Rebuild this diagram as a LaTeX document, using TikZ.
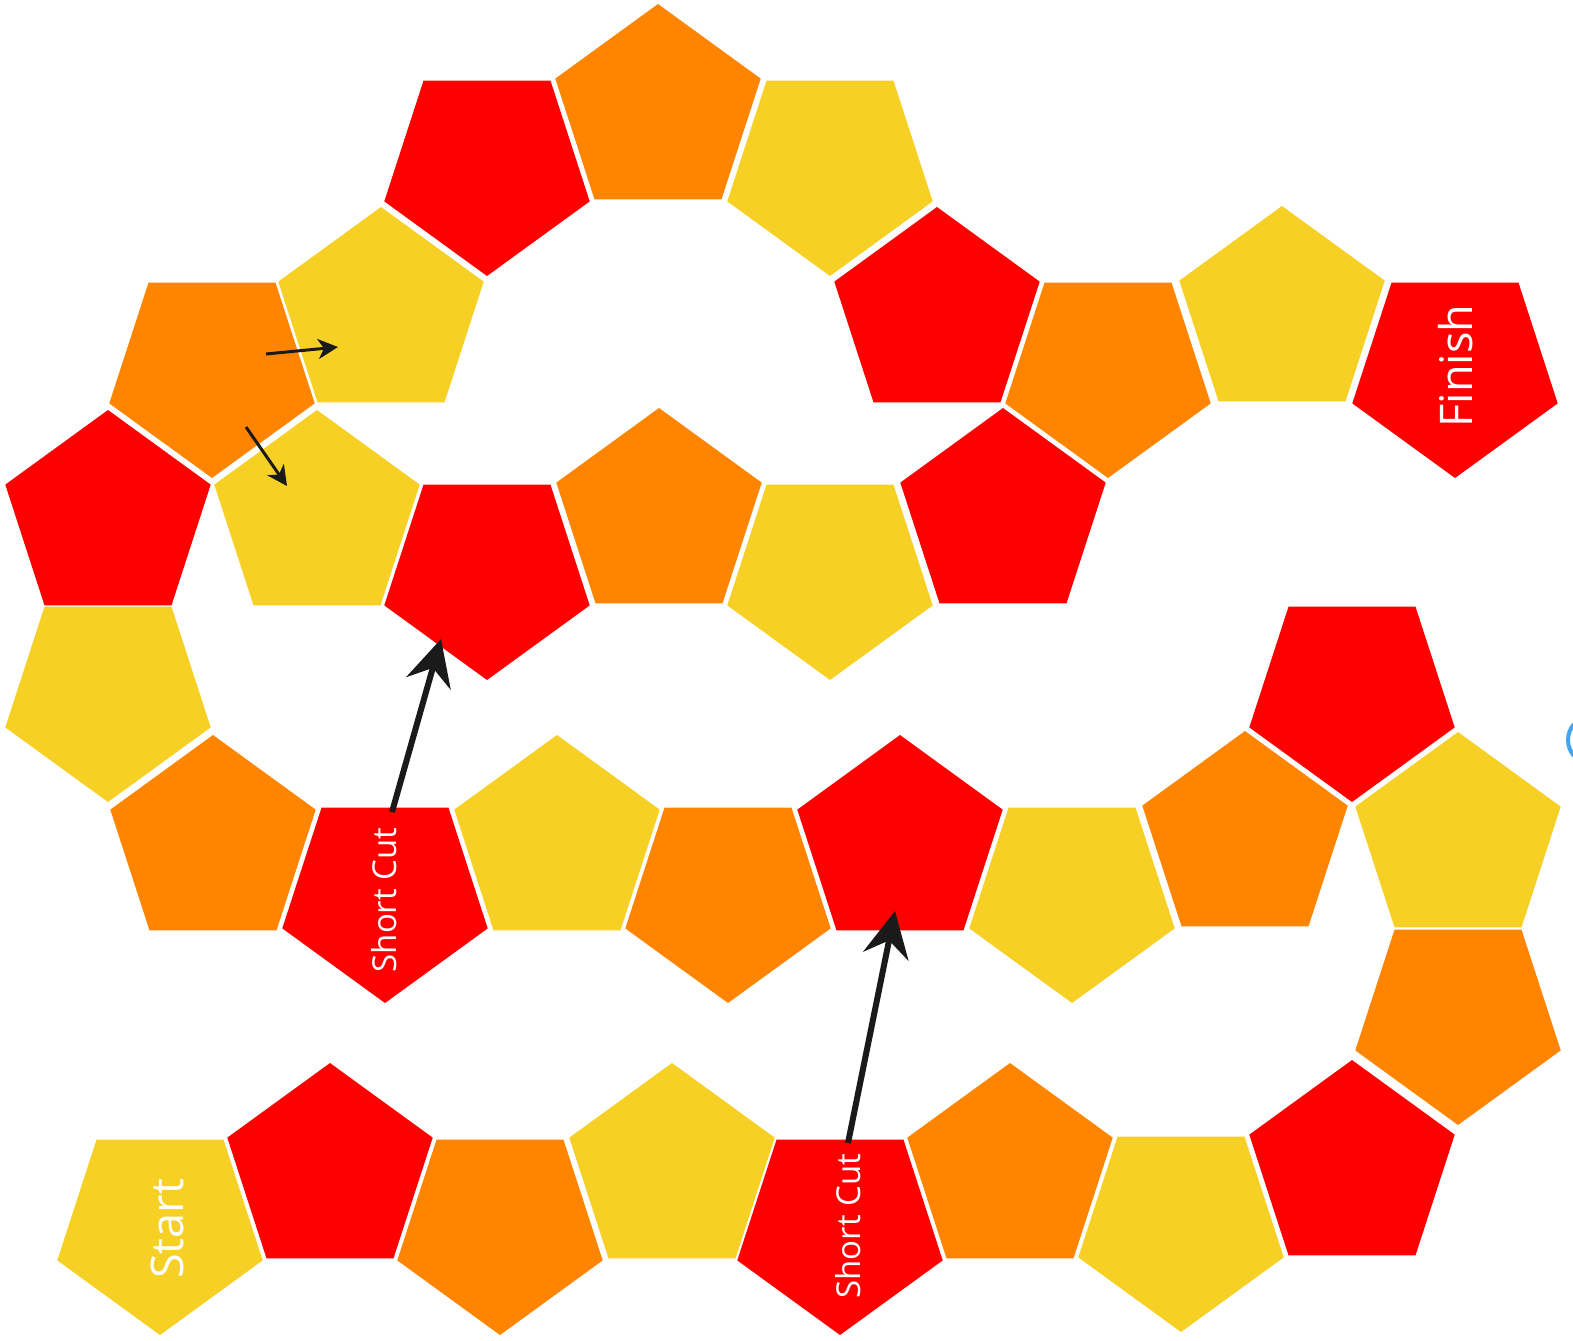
\documentclass[tikz,border=0pt]{standalone}
\usepackage{fontspec}
\setmainfont{Open Sans}
\usetikzlibrary{shapes.geometric,arrows.meta}

\definecolor{tileRed}{RGB}{255,0,0}
\definecolor{tileOrange}{RGB}{255,133,0}
\definecolor{tileYellow}{RGB}{247,208,38}
\definecolor{arrowInk}{RGB}{26,26,26}
\definecolor{markBlue}{RGB}{70,165,240}

\tikzset{every picture/.style={line width=0.75pt}}
\tikzset{
  tileup/.style={regular polygon, regular polygon sides=5, minimum size=108pt, inner sep=0pt, outer sep=0pt, draw=none},
  tiledown/.style={tileup, shape border rotate=180},
  tilelabel/.style={text=white, rotate=90, inner sep=0pt},
  shortcut/.style={draw=arrowInk, line width=3pt, -{Stealth[length=23pt, width=23pt, inset=8pt]}},
  hint/.style={draw=arrowInk, line width=1.5pt, -{Stealth[length=10pt, width=10pt, inset=3pt]}}
}

\begin{document}
\begin{tikzpicture}[x=0.5pt,y=0.5pt,yscale=-1,xscale=1]
\useasboundingbox (0,0) rectangle (1573,1340);

%Shape: Pentagon [bottom row]
\node [tiledown, fill=tileYellow] (t01) at (160,1227) {};
\node [tileup, fill=tileRed] (t02) at (330,1171) {};
\node [tiledown, fill=tileOrange] (t03) at (500,1227) {};
\node [tileup, fill=tileYellow] (t04) at (672,1171) {};
\node [tiledown, fill=tileRed] (t05) at (840,1227) {};
\node [tileup, fill=tileOrange] (t06) at (1010,1171) {};
\node [tiledown, fill=tileYellow] (t07) at (1181,1224) {};
\node [tileup, fill=tileRed] (t08) at (1352,1168) {};
%Shape: Pentagon [right column]
\node [tiledown, fill=tileOrange] (t09) at (1458,1017) {};
\node [tileup, fill=tileYellow] (t10) at (1458,840) {};
\node [tiledown, fill=tileRed] (t11) at (1352,694) {};
%Shape: Pentagon [middle row]
\node [tileup, fill=tileOrange] (t12) at (1245,839) {};
\node [tiledown, fill=tileYellow] (t13) at (1072,895) {};
\node [tileup, fill=tileRed] (t14) at (900,843) {};
\node [tiledown, fill=tileOrange] (t15) at (728,895) {};
\node [tileup, fill=tileYellow] (t16) at (557,843) {};
\node [tiledown, fill=tileRed] (t17) at (385,895) {};
\node [tileup, fill=tileOrange] (t18) at (213,843) {};
%Shape: Pentagon [left column]
\node [tiledown, fill=tileYellow] (t19) at (108,694) {};
\node [tileup, fill=tileRed] (t20) at (108,518) {};
\node [tiledown, fill=tileOrange] (t21) at (212,370) {};
%Shape: Pentagon [lower branch]
\node [tileup, fill=tileYellow] (t22) at (317,518) {};
\node [tiledown, fill=tileRed] (t23) at (487,572) {};
\node [tileup, fill=tileOrange] (t24) at (659,516) {};
\node [tiledown, fill=tileYellow] (t25) at (830,572) {};
\node [tileup, fill=tileRed] (t26) at (1003,516) {};
%Shape: Pentagon [upper branch]
\node [tileup, fill=tileYellow] (t27) at (381,315) {};
\node [tiledown, fill=tileRed] (t28) at (487,168) {};
\node [tileup, fill=tileOrange] (t29) at (658,112) {};
\node [tiledown, fill=tileYellow] (t30) at (830,168) {};
\node [tileup, fill=tileRed] (t31) at (937,315) {};
\node [tiledown, fill=tileOrange] (t32) at (1108,370) {};
\node [tileup, fill=tileYellow] (t33) at (1282,314) {};
\node [tiledown, fill=tileRed] (t34) at (1455,370) {};

%Shape: Circle [cut off at the edge]
\draw [draw=markBlue, line width=2pt] (1592,740) circle [radius=24];

%Straight Lines [short cuts]
\coordinate (cutA) at (392,812);
\coordinate (cutAend) at (441,639);
\draw [shortcut] (cutA) -- (cutAend);
\coordinate (cutB) at (848,1143);
\coordinate (cutBend) at (895,911);
\draw [shortcut] (cutB) -- (cutBend);
%Straight Lines [direction hints]
\coordinate (hintA) at (266,354);
\coordinate (hintAend) at (338,347);
\draw [hint] (hintA) -- (hintAend);
\coordinate (hintB) at (246,427);
\coordinate (hintBend) at (287,486);
\draw [hint] (hintB) -- (hintBend);

% Text Node
\draw (167,1229) node [tilelabel, font=\fontsize{22.5}{22.5}\selectfont] (start) {Start};
% Text Node
\draw (1456,366) node [tilelabel, font=\fontsize{22.5}{22.5}\selectfont] (finish) {Finish};
% Text Node
\draw (384,900) node [tilelabel, font=\fontsize{16.5}{16.5}\selectfont] (cutAtext) {Short Cut};
% Text Node
\draw (848,1226) node [tilelabel, font=\fontsize{16.5}{16.5}\selectfont] (cutBtext) {Short Cut};

\end{tikzpicture}
\end{document}
